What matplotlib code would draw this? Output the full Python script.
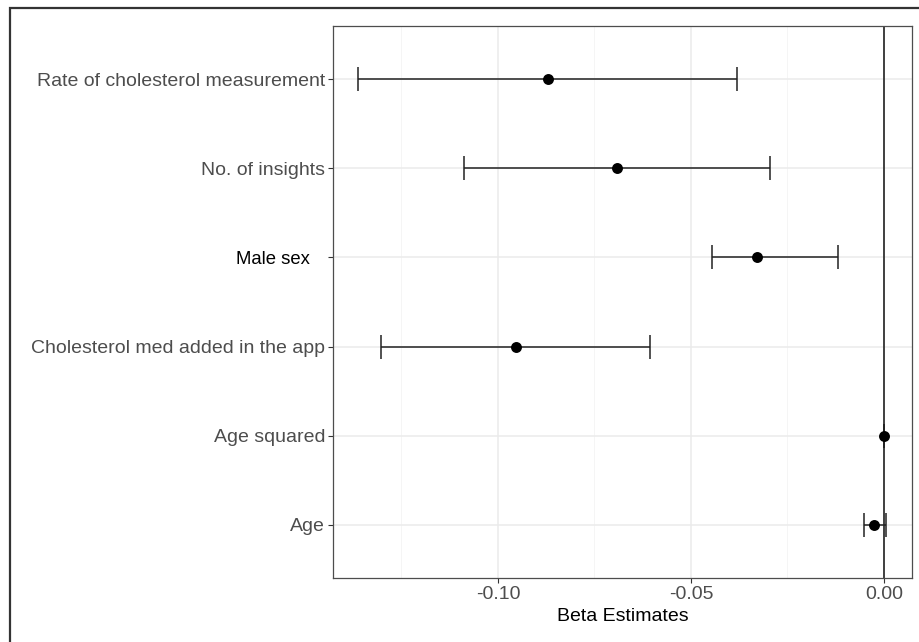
import matplotlib
matplotlib.use("Agg")
import matplotlib.pyplot as plt
from matplotlib.patches import Rectangle

plt.rcParams["font.family"] = ["Liberation Sans", "DejaVu Sans"]

# bottom-to-top order as drawn
labels = ["Age", "Age squared", "Cholesterol med added in the app",
          "Male sex   ", "No. of insights", "Rate of cholesterol measurement"]
estimate = [-0.0025, 0.0000, -0.0954, -0.0330, -0.0692, -0.0871]
lower = [-0.0053, -0.0001, -0.1303, -0.0446, -0.1088, -0.1362]
upper = [0.0004, 0.0001, -0.0606, -0.0118, -0.0295, -0.0382]
xticks = [-0.10, -0.05, 0.00]
minor_xticks = [-0.125, -0.075, -0.025]

fig = plt.figure(figsize=(9.19, 6.42), dpi=100)
ax = fig.add_axes([0.362, 0.0997, 0.6307, 0.8598])

# outer frame (only left and top visible in the crop)
fig.patches.append(Rectangle((9.5 / 919, -0.1), 1.2, 1.1 - 7.5 / 642,
                             transform=fig.transFigure, fill=False,
                             edgecolor="#333333", linewidth=1.6))

y = list(range(len(labels)))
ax.set_xlim(-0.1428, 0.00733)
ax.set_ylim(-0.6, len(labels) - 0.4)

ax.set_xticks(xticks)
ax.set_xticklabels(["-0.10", "-0.05", "0.00"])
ax.set_xticks(minor_xticks, minor=True)
ax.set_yticks(y)
ax.set_yticklabels(labels)

ax.grid(True, which="major", color="#EBEBEB", linewidth=1.1, zorder=0)
ax.grid(True, which="minor", axis="x", color="#F4F4F4", linewidth=0.6, zorder=0)
ax.set_axisbelow(True)

ax.axvline(0, color="#111111", linewidth=1.1, zorder=1)

xerr = [[e - lo for e, lo in zip(estimate, lower)],
        [hi - e for e, hi in zip(estimate, upper)]]
ax.errorbar(estimate, y, xerr=xerr, fmt="none", ecolor="#222222",
            elinewidth=1.1, capsize=8.5, capthick=1.1, zorder=2)
ax.scatter(estimate, y, s=62, color="black", zorder=3, linewidths=0)

for s in ax.spines.values():
    s.set_color("#4D4D4D")
    s.set_linewidth(0.9)

ax.tick_params(axis="both", which="major", length=3.5, width=0.8,
               color="#333333", labelsize=14, labelcolor="#4D4D4D", pad=2)
ax.tick_params(axis="x", which="minor", length=0)
for t in ax.get_yticklabels():
    if t.get_text().startswith("Male"):
        t.set_color("black")
        t.set_fontsize(13.3)

ax.set_xlabel("Beta Estimates", fontsize=14, color="black", labelpad=4)

fig.savefig("out.png", dpi=100)
